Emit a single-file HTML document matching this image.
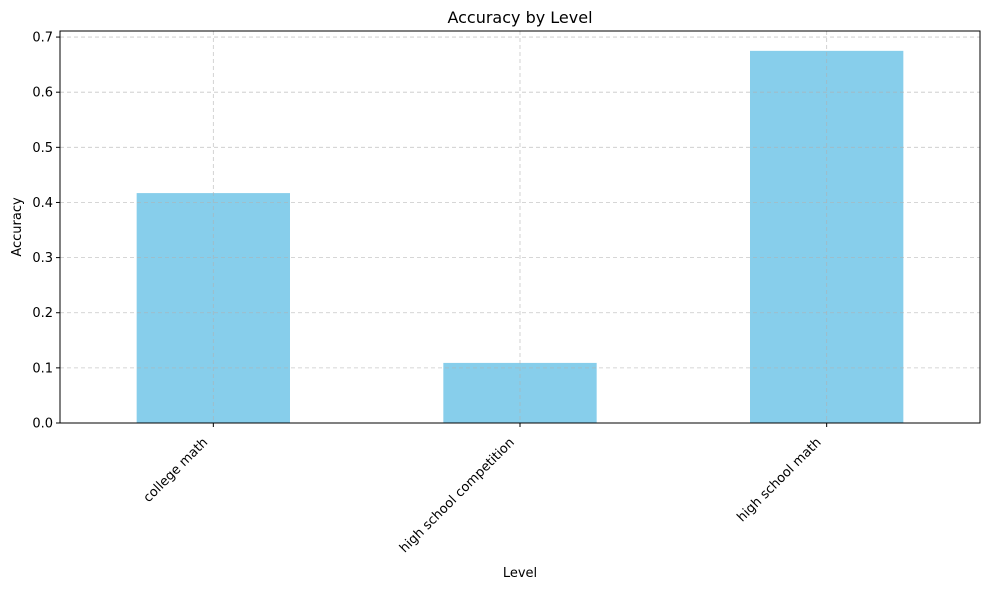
<!DOCTYPE html>
<html><head><meta charset="utf-8"><style>
body{margin:0;background:#fff;}
svg{display:block;font-family:"DejaVu Sans","Liberation Sans",sans-serif;}
</style></head><body>
<svg id="chart" width="989" height="590" viewBox="0 0 989 590"></svg>
<script>
const categories = ["college math", "high school competition", "high school math"];
const accuracy = [0.417, 0.109, 0.675];
const yTicks = [0.0, 0.1, 0.2, 0.3, 0.4, 0.5, 0.6, 0.7];

const L = 60, R = 980, T = 31, B = 423;
const yMax = 0.711;
const x = i => L + (i + 0.5) * (R - L) / categories.length;
const y = v => B - v / yMax * (B - T);
const bw = 0.5 * (R - L) / categories.length;
const svg = document.getElementById('chart');
const NS = 'http://www.w3.org/2000/svg';
function mk(tag, attrs, parent) {
  const e = document.createElementNS(NS, tag);
  for (const k in attrs) e.setAttribute(k, attrs[k]);
  (parent || svg).appendChild(e);
  return e;
}
categories.forEach((c, i) => {
  const r = mk('rect', {x: x(i) - bw / 2, y: y(accuracy[i]), width: bw, height: B - y(accuracy[i]), fill: '#87ceeb'});
  
  
});
yTicks.forEach(t => {
  const g = mk('line', {x1: L, x2: R, y1: y(t), y2: y(t), stroke: '#b0b0b0', 'stroke-opacity': 0.7, 'stroke-dasharray': '4,3', 'stroke-width': 0.8});
  
  
});
categories.forEach((c, i) => {
  const g = mk('line', {x1: x(i), x2: x(i), y1: T, y2: B, stroke: '#b0b0b0', 'stroke-opacity': 0.7, 'stroke-dasharray': '4,3', 'stroke-width': 0.8});
  
  
});
const f = mk('rect', {x: L, y: T, width: R - L, height: B - T, fill: 'none', stroke: '#000', 'stroke-width': 1});


yTicks.forEach(t => {
  mk('line', {x1: L - 4, x2: L, y1: y(t), y2: y(t), stroke: '#000'});
  const tx = mk('text', {x: L - 7, y: y(t) + 4.5, 'text-anchor': 'end', 'font-size': 13});
  tx.textContent = t.toFixed(1);
  
  
});
categories.forEach((c, i) => {
  mk('line', {x1: x(i), x2: x(i), y1: B, y2: B + 4, stroke: '#000'});
  const ax = x(i) - 5, ay = B + 20;
  const tx = mk('text', {x: ax, y: ay, 'text-anchor': 'end', 'font-size': 13, transform: `rotate(-45 ${ax} ${ay})`});
  tx.textContent = c;
  
  
});
const title = mk('text', {x: (L + R) / 2, y: 23, 'text-anchor': 'middle', 'font-size': 16});
title.textContent = 'Accuracy by Level';


const xt = mk('text', {x: (L + R) / 2, y: 577, 'text-anchor': 'middle', 'font-size': 13});
xt.textContent = 'Level';


const yt = mk('text', {x: 21, y: (T + B) / 2, 'text-anchor': 'middle', 'font-size': 13, transform: `rotate(-90 21 ${(T + B) / 2})`});
yt.textContent = 'Accuracy';


</script>
</body></html>
